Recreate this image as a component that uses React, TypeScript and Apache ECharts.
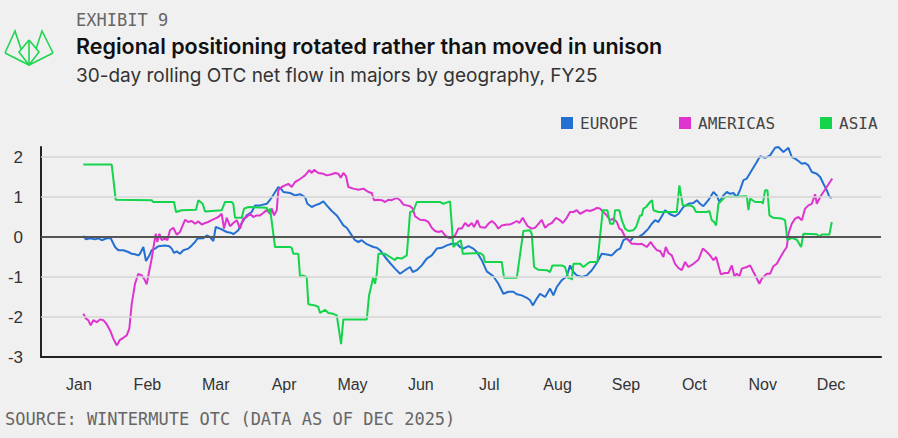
import React, { useEffect, useRef } from "react";
import * as echarts from "echarts";

const MONTHS = ["Jan", "Feb", "Mar", "Apr", "May", "Jun", "Jul", "Aug", "Sep", "Oct", "Nov", "Dec"];
const MONTH_TICKS = [0, 1, 2, 3, 4, 5, 6, 7, 8, 9, 10, 11];
const Y_TICKS = [-3, -2, -1, 0, 1, 2];
const GRID_VALUES = [2, 1, -1, -2];
const SERIES_NAMES = ["EUROPE", "AMERICAS", "ASIA"];

// [month position (0 = Jan), value]
const EUROPE: [number, number][] = [
  [0.063, 0.03], [0.102, -0.06], [0.161, -0.03], [0.234, -0.06], [0.282, -0.03], [0.332, -0.08], [0.405, -0.03],
  [0.464, -0.03], [0.527, -0.25], [0.575, -0.33], [0.648, -0.33], [0.721, -0.375], [0.771, -0.42], [0.819, -0.43],
  [0.867, -0.46], [0.892, -0.42], [0.941, -0.25], [0.98, -0.6], [1.028, -0.46], [1.063, -0.33], [1.112, -0.29],
  [1.16, -0.23], [1.258, -0.21], [1.321, -0.23], [1.356, -0.29], [1.39, -0.4], [1.429, -0.36], [1.477, -0.42],
  [1.526, -0.33], [1.599, -0.29], [1.649, -0.21], [1.697, -0.125], [1.731, -0.04], [1.818, -0.03], [1.868, 0.04],
  [1.916, 0.0], [1.965, -0.1], [2.0, 0.25], [2.063, 0.21], [2.161, 0.125], [2.234, 0.1], [2.257, 0.07],
  [2.33, 0.17], [2.38, 0.35], [2.453, 0.54], [2.526, 0.625], [2.575, 0.79], [2.648, 0.79], [2.746, 0.83],
  [2.794, 0.93], [2.853, 1.08], [2.915, 1.25], [2.955, 1.21], [2.988, 1.125], [3.087, 1.1], [3.16, 1.04],
  [3.233, 1.07], [3.306, 1.0], [3.34, 0.83], [3.404, 0.75], [3.452, 0.79], [3.515, 0.83], [3.574, 0.89],
  [3.623, 0.79], [3.697, 0.65], [3.77, 0.54], [3.818, 0.42], [3.866, 0.29], [3.916, 0.23], [3.989, 0.04],
  [4.037, -0.08], [4.086, -0.125], [4.135, -0.08], [4.209, -0.18], [4.305, -0.25], [4.355, -0.27], [4.403, -0.33],
  [4.476, -0.5], [4.549, -0.65], [4.622, -0.79], [4.696, -0.92], [4.769, -0.83], [4.842, -0.75], [4.881, -0.875],
  [4.94, -0.83], [5.013, -0.71], [5.086, -0.54], [5.159, -0.46], [5.233, -0.29], [5.306, -0.27], [5.379, -0.21],
  [5.452, -0.17], [5.525, -0.17], [5.573, -0.25], [5.622, -0.29], [5.695, -0.23], [5.768, -0.29], [5.818, -0.375],
  [5.891, -0.58], [5.964, -0.86], [6.06, -0.98], [6.134, -1.17], [6.207, -1.42], [6.28, -1.37], [6.353, -1.37],
  [6.403, -1.43], [6.476, -1.46], [6.549, -1.52], [6.597, -1.58], [6.637, -1.71], [6.695, -1.54], [6.743, -1.42],
  [6.817, -1.5], [6.89, -1.29], [6.938, -1.46], [6.988, -1.25], [7.061, -1.08], [7.134, -0.98], [7.182, -0.71],
  [7.231, -0.875], [7.28, -0.96], [7.354, -1.0], [7.427, -0.96], [7.5, -0.83], [7.573, -0.65], [7.646, -0.42],
  [7.719, -0.44], [7.792, -0.46], [7.866, -0.33], [7.914, -0.29], [7.962, -0.08], [8.012, -0.04], [8.06, -0.11],
  [8.108, 0.0], [8.181, 0.0], [8.255, 0.08], [8.328, 0.21], [8.377, 0.33], [8.426, 0.42], [8.474, 0.375],
  [8.524, 0.52], [8.572, 0.67], [8.645, 0.57], [8.718, 0.52], [8.767, 0.58], [8.84, 0.75], [8.913, 0.83],
  [8.986, 0.85], [9.036, 0.92], [9.084, 0.83], [9.132, 0.77], [9.205, 0.92], [9.279, 1.125], [9.328, 1.04],
  [9.366, 0.875], [9.425, 1.04], [9.475, 1.125], [9.523, 1.08], [9.571, 1.1], [9.621, 1.0], [9.669, 1.18],
  [9.718, 1.42], [9.767, 1.46], [9.84, 1.67], [9.913, 1.875], [9.962, 2.02], [10.035, 1.98], [10.108, 2.04],
  [10.181, 2.23], [10.229, 2.25], [10.303, 2.125], [10.376, 2.23], [10.425, 2.0], [10.474, 1.96], [10.522, 1.9],
  [10.572, 1.83], [10.62, 1.85], [10.668, 1.79], [10.718, 1.625], [10.791, 1.58], [10.84, 1.5], [10.888, 1.33],
  [10.937, 1.17], [10.975, 1.0], [11.01, 0.98],
];

const AMERICAS: [number, number][] = [
  [0.063, -1.92], [0.102, -2.04], [0.136, -2.08], [0.171, -2.21], [0.209, -2.08], [0.259, -2.13], [0.307, -2.06],
  [0.355, -2.08], [0.405, -2.18], [0.453, -2.33], [0.502, -2.54], [0.551, -2.71], [0.6, -2.57], [0.648, -2.52],
  [0.698, -2.46], [0.736, -2.29], [0.771, -1.67], [0.819, -1.17], [0.867, -0.92], [0.917, -0.96], [0.951, -1.04],
  [0.99, -1.18], [1.024, -0.875], [1.063, -0.54], [1.097, -0.17], [1.122, 0.08], [1.145, -0.125], [1.175, 0.08],
  [1.21, -0.08], [1.258, -0.04], [1.292, -0.08], [1.331, 0.17], [1.379, 0.23], [1.429, 0.06], [1.477, 0.125],
  [1.517, 0.29], [1.551, 0.43], [1.599, 0.375], [1.649, 0.4], [1.697, 0.33], [1.745, 0.39], [1.795, 0.31],
  [1.843, 0.35], [1.891, 0.375], [1.941, 0.42], [1.989, 0.46], [2.038, 0.5], [2.087, 0.58], [2.121, 0.21],
  [2.161, 0.48], [2.209, 0.27], [2.257, 0.35], [2.307, 0.42], [2.355, 0.21], [2.403, 0.46], [2.453, 0.5],
  [2.501, 0.58], [2.55, 0.5], [2.599, 0.54], [2.648, 0.54], [2.696, 0.6], [2.746, 0.68], [2.794, 0.58],
  [2.819, 0.71], [2.853, 0.54], [2.892, 0.67], [2.915, 1.17], [2.965, 1.25], [3.013, 1.29], [3.062, 1.33],
  [3.111, 1.25], [3.16, 1.375], [3.208, 1.42], [3.258, 1.48], [3.306, 1.54], [3.369, 1.67], [3.404, 1.6],
  [3.438, 1.68], [3.5, 1.6], [3.574, 1.58], [3.623, 1.54], [3.697, 1.57], [3.745, 1.6], [3.793, 1.58],
  [3.828, 1.48], [3.866, 1.6], [3.906, 1.52], [3.939, 1.25], [4.012, 1.21], [4.086, 1.18], [4.159, 1.21],
  [4.232, 1.125], [4.282, 1.1], [4.315, 0.92], [4.378, 0.93], [4.428, 0.92], [4.476, 0.875], [4.524, 0.93],
  [4.574, 0.92], [4.647, 0.98], [4.696, 0.92], [4.744, 0.81], [4.794, 0.79], [4.842, 0.77], [4.881, 0.71],
  [4.915, 0.52], [4.988, 0.43], [5.061, 0.42], [5.11, 0.375], [5.159, 0.23], [5.208, 0.15], [5.256, 0.125],
  [5.306, 0.15], [5.354, 0.04], [5.402, -0.02], [5.452, -0.025], [5.501, 0.04], [5.548, 0.21], [5.598, 0.21],
  [5.646, 0.35], [5.695, 0.27], [5.744, 0.35], [5.778, 0.25], [5.826, 0.42], [5.866, 0.25], [5.939, 0.23],
  [5.987, 0.33], [6.037, 0.4], [6.085, 0.33], [6.134, 0.21], [6.183, 0.29], [6.257, 0.315], [6.305, 0.315],
  [6.353, 0.35], [6.403, 0.4], [6.441, 0.35], [6.49, 0.48], [6.524, 0.375], [6.561, 0.27], [6.622, 0.21],
  [6.67, 0.23], [6.719, 0.33], [6.768, 0.43], [6.817, 0.23], [6.865, 0.31], [6.915, 0.35], [6.978, 0.48],
  [7.026, 0.43], [7.076, 0.35], [7.134, 0.48], [7.182, 0.625], [7.231, 0.625], [7.28, 0.67], [7.329, 0.58],
  [7.377, 0.625], [7.427, 0.67], [7.475, 0.65], [7.523, 0.68], [7.573, 0.725], [7.621, 0.71], [7.669, 0.625],
  [7.719, 0.54], [7.768, 0.42], [7.816, 0.46], [7.866, 0.375], [7.904, 0.21], [7.939, 0.17], [7.987, 0.0],
  [8.035, -0.07], [8.085, -0.17], [8.133, -0.17], [8.181, -0.18], [8.231, -0.17], [8.304, -0.25], [8.363, -0.125],
  [8.401, -0.23], [8.451, -0.33], [8.499, -0.35], [8.547, -0.5], [8.582, -0.25], [8.62, -0.4], [8.67, -0.46],
  [8.718, -0.67], [8.767, -0.775], [8.816, -0.83], [8.865, -0.625], [8.913, -0.75], [8.986, -0.67], [9.059, -0.57],
  [9.124, -0.29], [9.182, -0.375], [9.23, -0.46], [9.279, -0.58], [9.318, -0.5], [9.352, -0.71], [9.387, -0.93],
  [9.45, -0.9], [9.498, -0.9], [9.548, -0.71], [9.586, -0.98], [9.621, -0.92], [9.659, -0.98], [9.694, -0.79],
  [9.767, -0.75], [9.816, -0.71], [9.864, -0.875], [9.903, -1.0], [9.951, -1.17], [9.987, -1.04], [10.06, -0.92],
  [10.108, -0.92], [10.156, -0.73], [10.206, -0.67], [10.254, -0.52], [10.303, -0.375], [10.352, -0.25],
  [10.376, 0.08], [10.425, 0.33], [10.474, 0.46], [10.522, 0.5], [10.572, 0.42], [10.62, 0.71], [10.668, 0.79],
  [10.718, 0.83], [10.766, 1.07], [10.791, 0.83], [10.84, 1.0], [10.888, 1.125], [10.937, 1.25], [11.0, 1.42],
  [11.019, 1.46],
];

const ASIA: [number, number][] = [
  [0.063, 1.81], [0.478, 1.81], [0.537, 0.93], [1.063, 0.92], [1.082, 0.875], [1.39, 0.875], [1.419, 0.625],
  [1.502, 0.67], [1.711, 0.68], [1.745, 0.92], [1.809, 0.83], [1.843, 0.64], [2.087, 0.67], [2.136, 0.875],
  [2.234, 0.875], [2.257, 0.83], [2.282, 0.48], [2.38, 0.48], [2.414, 0.71], [2.477, 0.75], [2.746, 0.73],
  [2.769, 0.625], [2.794, 0.71], [2.867, -0.25], [3.087, -0.25], [3.111, -0.27], [3.135, -0.42], [3.208, -0.42],
  [3.233, -1.0], [3.272, -0.96], [3.331, -1.0], [3.354, -1.68], [3.452, -1.71], [3.5, -1.75], [3.525, -1.9],
  [3.598, -1.82], [3.647, -1.9], [3.72, -1.92], [3.77, -1.96], [3.833, -2.68], [3.866, -2.06], [4.209, -2.06],
  [4.242, -1.46], [4.282, -1.17], [4.305, -1.0], [4.33, -1.17], [4.355, -0.92], [4.378, -0.42], [4.476, -0.42],
  [4.549, -0.5], [4.622, -0.58], [4.647, -0.52], [4.72, -0.54], [4.794, -0.46], [4.842, 0.625], [4.89, 0.65],
  [4.94, 0.875], [5.281, 0.875], [5.329, 0.83], [5.427, 0.89], [5.475, -0.25], [5.548, -0.125], [5.584, -0.08],
  [5.613, -0.42], [5.866, -0.4], [5.914, -0.46], [5.939, -0.625], [6.183, -0.625], [6.217, -1.02], [6.403, -1.02],
  [6.499, 0.15], [6.597, 0.17], [6.622, 0.08], [6.656, -0.75], [6.719, -0.82], [6.841, -0.83], [6.89, -0.875],
  [6.924, -0.71], [7.061, -0.71], [7.109, -0.75], [7.157, -1.04], [7.182, -1.0], [7.207, -1.07], [7.231, -0.67],
  [7.329, -0.67], [7.377, -0.75], [7.427, -0.68], [7.475, -0.625], [7.582, -0.625], [7.661, 0.67], [7.728, 0.67],
  [7.768, 0.33], [7.816, 0.33], [7.841, 0.67], [7.904, 0.67], [7.939, 0.42], [7.987, 0.21], [8.035, 0.15],
  [8.108, 0.17], [8.148, 0.25], [8.206, 0.54], [8.231, 0.54], [8.255, 0.71], [8.294, 0.75], [8.353, 0.875],
  [8.382, 0.92], [8.401, 0.67], [8.474, 0.625], [8.743, 0.625], [8.781, 1.29], [8.831, 0.79], [8.938, 0.79],
  [8.986, 0.75], [9.025, 0.625], [9.182, 0.625], [9.22, 0.65], [9.255, 0.42], [9.289, 0.375], [9.318, 0.29],
  [9.352, 0.83], [9.401, 0.92], [9.45, 1.0], [9.767, 1.02], [9.791, 0.67], [9.816, 0.96], [9.889, 0.875],
  [9.987, 0.875], [10.001, 0.83], [10.035, 1.17], [10.069, 1.17], [10.098, 0.54], [10.156, 0.48], [10.279, 0.46],
  [10.327, 0.42], [10.361, -0.08], [10.425, -0.02], [10.499, -0.07], [10.561, -0.25], [10.595, 0.08],
  [10.791, 0.07], [10.825, 0.0], [10.864, 0.06], [10.975, 0.06], [11.01, 0.375],
];

const COLORS = ["#2470d2", "#de33cf", "#14d44c"];
const LEGEND_LEFT = [556, 674, 815];

export default function App() {
  const ref = useRef<HTMLDivElement>(null);
  useEffect(() => {
    if (!ref.current) return;
    const chart = echarts.init(ref.current, undefined, { renderer: "svg" });
    const green = "#1fd64f";
    const logoLines = [
      [[5, 53], [15, 31], [21, 49]],
      [[53, 53], [42, 31], [36, 49]],
      [[29, 40], [19, 52], [29, 65], [39, 52], [29, 40]],
      [[5, 53], [29, 65], [53, 53]],
      [[29, 40], [29, 65]],
    ];
    chart.setOption({
      animation: false,
      backgroundColor: "#f0f0f0",
      grid: { left: 41, right: 17, top: 147, bottom: 81 },
      legend: SERIES_NAMES.map((n, i) => ({
        left: LEGEND_LEFT[i],
        top: 110,
        icon: "rect",
        itemWidth: 12,
        itemHeight: 12,
        data: [n],
        textStyle: { fontFamily: "DejaVu Sans Mono", fontSize: 16, color: "#444", padding: [0, 0, 0, 2] },
      })),
      graphic: [
        ...logoLines.map((pts) => ({
          type: "polyline",
          shape: { points: pts },
          style: { stroke: green, lineWidth: 1.6, fill: null },
        })),
        {
          type: "text",
          x: 76,
          y: 20,
          style: {
            text: "EXHIBIT 9",
            font: "17px 'DejaVu Sans Mono'",
            fill: "#666",
            textVerticalAlign: "middle",
          },
        },
        {
          type: "text",
          x: 76,
          y: 46,
          style: {
            text: "Regional positioning rotated rather than moved in unison",
            font: "600 21.5px Inter",
            fill: "#111",
            textVerticalAlign: "middle",
          },
        },
        {
          type: "text",
          x: 76,
          y: 75,
          style: {
            text: "30-day rolling OTC net flow in majors by geography, FY25",
            font: "19px Inter",
            fill: "#333",
            textVerticalAlign: "middle",
          },
        },
        {
          type: "text",
          x: 5,
          y: 419,
          style: {
            text: "SOURCE: WINTERMUTE OTC (DATA AS OF DEC 2025)",
            font: "17px 'DejaVu Sans Mono'",
            fill: "#666",
            textVerticalAlign: "middle",
          },
        },
      ],
      xAxis: {
        type: "value",
        min: -0.556,
        max: 11.73,
        axisLine: { show: true, onZero: false, lineStyle: { color: "#222", width: 2 } },
        axisTick: { show: false },
        splitLine: { show: false },
        axisLabel: {
          customValues: MONTH_TICKS,
          formatter: (v: number) => MONTHS[Math.round(v)] ?? "",
          color: "#333",
          fontFamily: "Liberation Sans",
          fontSize: 16,
          margin: 19,
        },
      },
      yAxis: {
        type: "value",
        min: -3,
        max: 2.25,
        axisLine: { show: true, onZero: false, lineStyle: { color: "#222", width: 2 } },
        axisTick: { show: false },
        splitLine: { show: false },
        axisLabel: {
          customValues: Y_TICKS,
          color: "#333",
          fontFamily: "Liberation Sans",
          fontSize: 17,
          margin: 18,
        },
      },
      series: [
        {
          type: "line",
          data: [],
          silent: true,
          z: 1,
          markLine: {
            silent: true,
            symbol: "none",
            label: { show: false },
            animation: false,
            data: [
              ...GRID_VALUES.map((v) => ({ yAxis: v, lineStyle: { color: "#d6d6d6", width: 1.5, type: "solid" } })),
              { yAxis: 0, lineStyle: { color: "#555", width: 2, type: "solid" } },
            ],
          },
        },
        ...[EUROPE, AMERICAS, ASIA].map((d, i) => ({
          name: SERIES_NAMES[i],
          type: "line",
          data: d,
          symbol: "none",
          z: 3,
          color: COLORS[i],
          lineStyle: { width: 2, color: COLORS[i] },
        })),
      ],
    });
    return () => chart.dispose();
  }, []);
  return (
    <div
      ref={ref}
      style={{ position: "absolute", left: 0, top: 0, width: 898, height: 438 }}
    />
  );
}
